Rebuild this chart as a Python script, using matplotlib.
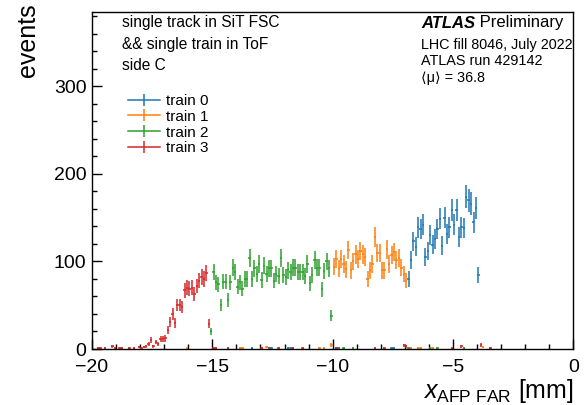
import numpy as np
import matplotlib
matplotlib.use("Agg")
import matplotlib.pyplot as plt
from matplotlib.ticker import MultipleLocator
from matplotlib.lines import Line2D

plt.rcParams['font.family'] = ['Liberation Sans', 'DejaVu Sans']
plt.rcParams['mathtext.fontset'] = 'custom'
plt.rcParams['mathtext.rm'] = 'Liberation Sans'
plt.rcParams['mathtext.it'] = 'Liberation Sans:italic'

# ---------------- data (histogram, 0.1 mm bins from -20 to 0) ----------------
x_min, bin_width, n_bins = -20.0, 0.1, 200

labels = ["train 0", "train 1", "train 2", "train 3"]
colors = ["#1f77b4", "#ff7f0e", "#2ca02c", "#d62728"]

# train 0 (blue)
train0_start = 131
train0_counts = [80, 102, 123, 117, 139, 137, 142, 105, 112, 130, 119, 126, 137, 149, 118,
                 150, 131, 139, 159, 142, 159, 128, 139, 138, 174, 170, 166, 145, 161]
train0_extra_bins = [66, 74, 81, 82, 101, 102, 124, 125, 160]
train0_extra_counts = [1, 1, 1, 1, 1, 1, 1, 1, 84]

# train 1 (orange)
train1_start = 100
train1_counts = [94, 103, 92, 103, 97, 91, 113, 90, 100, 108, 103, 112, 108, 105, 80, 90, 97,
                 128, 110, 110, 90, 90, 114, 97, 107, 111, 102, 104, 93, 86, 78]
train1_extra_bins = [2, 39, 61, 62, 72, 94, 96, 99, 132, 135, 136, 141, 154, 162]
train1_extra_counts = [1, 1, 1, 1, 2, 1, 1, 5, 1, 1, 1, 1, 1, 2]

# train 2 (green)
train2_start = 50
train2_counts = [88, 76, 74, 50, 77, 77, 56, 76, 93, 88, 71, 76, 69, 80, 80, 104, 80, 92, 86, 97,
                 79, 95, 86, 92, 92, 78, 86, 83, 104, 85, 82, 90, 88, 93, 93, 88, 88, 88, 83, 97,
                 75, 85, 102, 93, 93, 68, 89, 100, 92]
train2_extra_bins = [49, 99, 101, 104, 108, 131, 140, 143, 154]
train2_extra_counts = [20, 38, 1, 1, 1, 1, 1, 1, 1]

# train 3 (red)
train3_start = 21
train3_counts = [2, 3, 6, 10, 3, 8, 6, 11, 11, 12, 22, 31, 40, 30, 50, 50, 48, 67, 70, 69, 70,
                 63, 72, 78, 82, 80, 87]
train3_extra_bins = [2, 3, 5, 8, 9, 11, 12, 15, 17, 19, 20, 48, 50, 51, 56, 70, 73, 77, 83, 87,
                     101, 117, 121, 129, 130, 149, 153, 161, 165]
train3_extra_counts = [1, 1, 1, 3, 1, 1, 1, 1, 1, 2, 1, 29, 1, 1, 1, 1, 1, 1, 1, 1,
                       1, 1, 1, 4, 3, 1, 3, 5, 1]

trains = [
    (train0_start, train0_counts, train0_extra_bins, train0_extra_counts),
    (train1_start, train1_counts, train1_extra_bins, train1_extra_counts),
    (train2_start, train2_counts, train2_extra_bins, train2_extra_counts),
    (train3_start, train3_counts, train3_extra_bins, train3_extra_counts),
]


def build_hist(start, counts, extra_bins, extra_counts):
    h = np.zeros(n_bins)
    h[start:start + len(counts)] = counts
    for b, c in zip(extra_bins, extra_counts):
        h[b] = c
    return h


centers = x_min + (np.arange(n_bins) + 0.5) * bin_width

# ---------------- figure ----------------
W, H = 586, 405
fig = plt.figure(figsize=(W / 100, H / 100), dpi=100)
L, R, T, B = 92, 573.4, 12, 349
ax = fig.add_axes([L / W, 1 - B / H, (R - L) / W, (B - T) / H])

handles = []
for (start, counts, eb, ec), col, lab in zip(trains, colors, labels):
    h = build_hist(start, counts, eb, ec)
    m = h > 0
    ax.errorbar(centers[m], h[m], yerr=np.sqrt(h[m]), xerr=bin_width / 2,
                fmt='none', ecolor=col, elinewidth=1.1, capsize=0, label=lab)
    handles.append(Line2D([], [], color=col, lw=1.1, marker='|', markersize=9,
                          markeredgewidth=1.1))

ax.set_xlim(-20, 0)
ax.set_ylim(0, 385)
ax.xaxis.set_major_locator(MultipleLocator(5))
ax.xaxis.set_minor_locator(MultipleLocator(1))
ax.yaxis.set_major_locator(MultipleLocator(100))
ax.yaxis.set_minor_locator(MultipleLocator(20))
ax.tick_params(which='both', direction='in', top=False, right=False, width=1, colors='black')
ax.tick_params(which='major', length=7.5)
ax.tick_params(which='minor', length=3.6)
ax.tick_params(axis='y', which='major', labelsize=14, pad=4)
ax.tick_params(axis='x', which='major', labelsize=14, pad=7.5)
for s in ax.spines.values():
    s.set_linewidth(1.0)
    s.set_color('black')

# axis titles
fig.text(28 / W, 1 - 3 / H, "events", rotation=90, ha='center', va='top', fontsize=18)
fig.text(R / W, 1 - 398 / H, r"$x_{\mathrm{AFP\ FAR}}$ [mm]", ha='right', va='baseline',
         fontsize=18)

# legend
leg = ax.legend(handles=handles, labels=labels, loc='upper left',
                bbox_to_anchor=((128 - L) / (R - L), (B - 94) / (B - T)),
                frameon=False, fontsize=11, handlelength=2.1, handletextpad=0.4,
                labelspacing=0.12, borderpad=0, borderaxespad=0)

# annotations (left)
for txt, yy in [("single track in SiT FSC", 22), ("&& single train in ToF", 44), ("side C", 65)]:
    fig.text(122 / W, 1 - yy / H, txt, ha='left', va='center', fontsize=11.2)

# annotations (right)
atl = fig.text(421 / W, 1 - 23 / H, "ATLAS", ha='left', va='center', fontsize=12,
               fontweight='bold', fontstyle='italic')
ax.annotate(" Preliminary", xy=(1, 0), xycoords=atl, ha='left', va='bottom', fontsize=12)
fig.text(421 / W, 1 - 45 / H, "LHC fill 8046, July 2022", ha='left', va='center', fontsize=10.4)
fig.text(421 / W, 1 - 61 / H, "ATLAS run 429142", ha='left', va='center', fontsize=10.4)
fig.text(421 / W, 1 - 78 / H, "\u27e8\u03bc\u27e9 = 36.8", ha='left', va='center', fontsize=10.4)

fig.savefig("out.png", dpi=100)
